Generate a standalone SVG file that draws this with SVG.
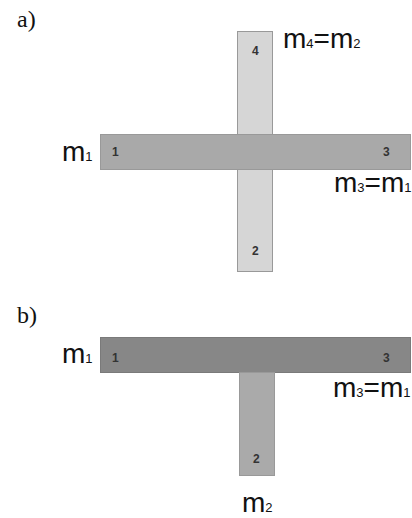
<svg xmlns="http://www.w3.org/2000/svg" width="412" height="518" viewBox="0 0 412 518">
<style>
.lbl{font-family:"Liberation Serif","DejaVu Serif",serif;font-size:24px;fill:#111}
.m{font-family:"Liberation Sans",Arial,sans-serif;font-size:28px;fill:#111}
.sub{font-size:13px}
.num{font-family:"Liberation Sans",Arial,sans-serif;font-size:12px;font-weight:bold;fill:#333}
.lt{fill:#d6d6d6;stroke:#999;stroke-width:1}
.md{fill:#a9a9a9;stroke:#999;stroke-width:1}
.dk{fill:#878787;stroke:#7a7a7a;stroke-width:1}
</style>
<rect width="412" height="518" fill="#fff"/>
<g id="panel-a">
<text class="lbl" x="17" y="27">a)</text>
<g id="a-bar-vertical">
<rect class="lt" x="237.5" y="31.5" width="35" height="240"/>
<text class="num" x="252" y="55">4</text>
<text class="num" x="252" y="255">2</text>
</g>
<g id="a-bar-horizontal">
<rect class="md" x="100.5" y="134.5" width="310" height="35"/>
<text class="num" x="112" y="156">1</text>
<text class="num" x="383" y="156">3</text>
</g>
<text class="m" x="283" y="48">m<tspan class="sub">4</tspan>=m<tspan class="sub">2</tspan></text>
<text class="m" x="62" y="161">m<tspan class="sub">1</tspan></text>
<text class="m" x="334" y="192">m<tspan class="sub">3</tspan>=m<tspan class="sub">1</tspan></text>
</g>
<g id="panel-b">
<text class="lbl" x="17" y="323">b)</text>
<g id="b-bar-horizontal">
<rect class="dk" x="100.5" y="337.5" width="310" height="35"/>
<text class="num" x="112" y="362">1</text>
<text class="num" x="383" y="362">3</text>
</g>
<g id="b-bar-vertical">
<rect fill="#aaaaaa" stroke="#999" x="239.5" y="372.5" width="35" height="103"/>
<text class="num" x="253" y="463">2</text>
</g>
<text class="m" x="62" y="363">m<tspan class="sub">1</tspan></text>
<text class="m" x="333" y="397">m<tspan class="sub">3</tspan>=m<tspan class="sub">1</tspan></text>
<text class="m" x="242" y="512">m<tspan class="sub">2</tspan></text>
</g>
<g id="connectors"></g>
</svg>
